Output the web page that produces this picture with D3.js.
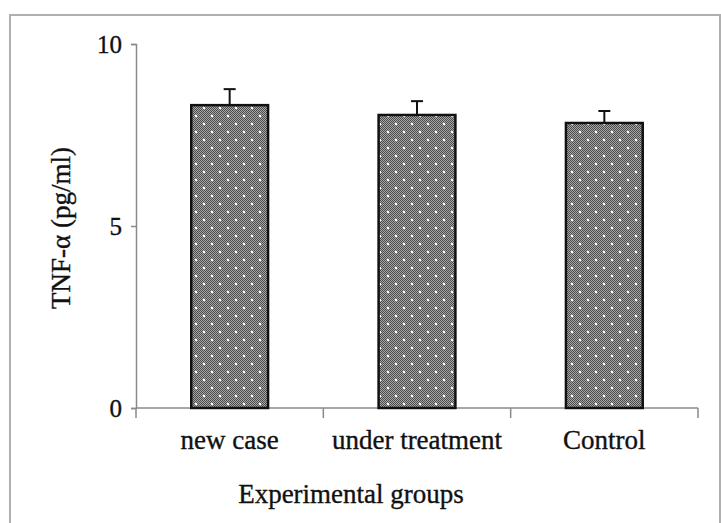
<!DOCTYPE html>
<html lang="en">
<head>
  <meta charset="UTF-8">
  <title>TNF-α by experimental group</title>
  <script src="https://d3js.org/d3.v7.min.js"></script>
  <style>
    body { margin: 0; background: #fff; }
    svg { display: block; }
    text { font-family: "Liberation Serif", "Times New Roman", serif; fill: #111; stroke: #111; stroke-width: 0.35px; }
  </style>
</head>
<body>
  <div id="chart"></div>
  <script>
    const categories = ['new case', 'under treatment', 'Control'];
    const means = [8.32, 8.05, 7.83];
    const errors = [0.44, 0.38, 0.33];
    const yTicks = [0, 5, 10];

    const W = 721, H = 523;
    const plotLeft = 136, plotRight = 698, plotTop = 44, plotBottom = 408;

    const svg = d3.select('#chart').append('svg')
      .attr('width', W)
      .attr('height', H);

    // outer frame (runs off the right and bottom)
    svg.append('rect')
      .attr('x', 10).attr('y', 15)
      .attr('width', 710).attr('height', 540)
      .attr('fill', 'none')
      .attr('stroke', '#b0b0b0')
      .attr('stroke-width', 2);

    const defs = svg.append('defs');
    const fine = defs.append('pattern')
      .attr('id', 'fine')
      .attr('patternUnits', 'userSpaceOnUse')
      .attr('width', 2).attr('height', 2);
    fine.append('rect').attr('width', 2).attr('height', 2).attr('fill', '#a6a6a6');
    fine.append('rect').attr('width', 1).attr('height', 1).attr('fill', '#4c4c4c');
    fine.append('rect').attr('x', 1).attr('y', 1).attr('width', 1).attr('height', 1).attr('fill', '#4c4c4c');

    const dots = defs.append('pattern')
      .attr('id', 'dots')
      .attr('patternUnits', 'userSpaceOnUse')
      .attr('width', 16).attr('height', 16);
    dots.append('circle').attr('cx', 4).attr('cy', 4).attr('r', 1.2).attr('fill', '#fff');
    dots.append('circle').attr('cx', 12).attr('cy', 12).attr('r', 1.2).attr('fill', '#fff');

    const y = d3.scaleLinear().domain([0, 10]).range([plotBottom, plotTop]);
    const x = d3.scaleBand()
      .domain(categories)
      .range([plotLeft, plotRight])
      .paddingInner(0.59)
      .paddingOuter(0.295);

    // y axis
    const yAxis = svg.append('g')
      .attr('transform', `translate(${plotLeft},0)`)
      .call(d3.axisLeft(y).tickValues(yTicks).tickSize(5).tickPadding(9));
    yAxis.select('.domain').attr('stroke', '#8a8a8a').attr('stroke-width', 1.5);
    yAxis.selectAll('.tick line').attr('stroke', '#8a8a8a').attr('stroke-width', 1.5);
    yAxis.selectAll('.tick text')
      .style('font-family', '"Liberation Serif", serif')
      .style('font-size', '25px');

    // x axis line with boundary ticks
    const step = x.step();
    const bounds = categories.map(c => x(c) - x.paddingOuter() * step).concat([plotRight]);
    svg.append('line')
      .attr('x1', plotLeft).attr('x2', plotRight)
      .attr('y1', plotBottom).attr('y2', plotBottom)
      .attr('stroke', '#8a8a8a').attr('stroke-width', 1.5);
    svg.selectAll('line.xtick')
      .data(bounds)
      .join('line')
      .attr('class', 'xtick')
      .attr('x1', d => d).attr('x2', d => d)
      .attr('y1', plotBottom).attr('y2', plotBottom + 10)
      .attr('stroke', '#8a8a8a').attr('stroke-width', 1.5);

    svg.selectAll('text.cat')
      .data(categories)
      .join('text')
      .attr('class', 'cat')
      .attr('x', d => x(d) + x.bandwidth() / 2)
      .attr('y', 449)
      .attr('text-anchor', 'middle')
      .style('font-size', '27px')
      .text(d => d);

    // bars
    const data = categories.map((c, i) => ({ c, v: means[i], e: errors[i] }));

    svg.selectAll('line.err')
      .data(data)
      .join('line')
      .attr('class', 'err')
      .attr('x1', d => x(d.c) + x.bandwidth() / 2)
      .attr('x2', d => x(d.c) + x.bandwidth() / 2)
      .attr('y1', d => y(d.v))
      .attr('y2', d => y(d.v + d.e))
      .attr('stroke', '#111').attr('stroke-width', 2);
    svg.selectAll('line.cap')
      .data(data)
      .join('line')
      .attr('class', 'cap')
      .attr('x1', d => x(d.c) + x.bandwidth() / 2 - 6)
      .attr('x2', d => x(d.c) + x.bandwidth() / 2 + 6)
      .attr('y1', d => y(d.v + d.e))
      .attr('y2', d => y(d.v + d.e))
      .attr('stroke', '#111').attr('stroke-width', 2);

    svg.selectAll('rect.bar')
      .data(data)
      .join('rect')
      .attr('class', 'bar')
      .attr('x', d => x(d.c))
      .attr('y', d => y(d.v))
      .attr('width', x.bandwidth())
      .attr('height', d => y(0) - y(d.v))
      .attr('fill', 'url(#fine)');
    svg.selectAll('rect.bardots')
      .data(data)
      .join('rect')
      .attr('class', 'bardots')
      .attr('x', d => x(d.c))
      .attr('y', d => y(d.v))
      .attr('width', x.bandwidth())
      .attr('height', d => y(0) - y(d.v))
      .attr('fill', 'url(#dots)')
      .attr('stroke', '#111')
      .attr('stroke-width', 2.5);

    // axis titles
    svg.append('text')
      .attr('x', 351)
      .attr('y', 503)
      .attr('text-anchor', 'middle')
      .style('font-size', '27px')
      .text('Experimental groups');

    svg.append('text')
      .attr('transform', 'translate(70,228) rotate(-90)')
      .attr('text-anchor', 'middle')
      .style('font-size', '27px')
      .text('TNF-α (pg/ml)');
  </script>
</body>
</html>
